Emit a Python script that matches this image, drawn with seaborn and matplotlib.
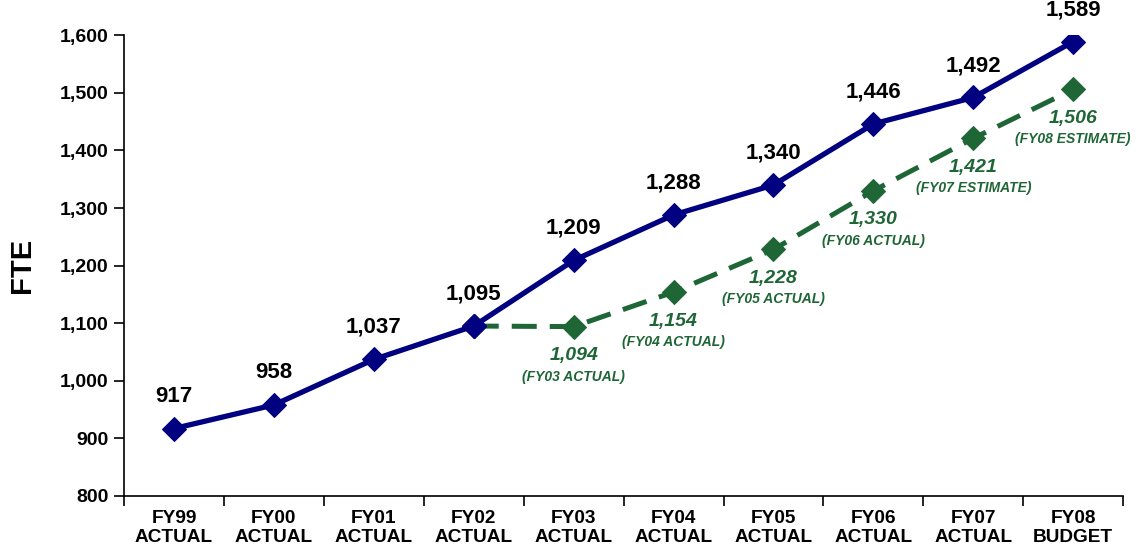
import matplotlib
matplotlib.use("Agg")
import matplotlib.pyplot as plt
import seaborn as sns
import pandas as pd
from matplotlib.ticker import FuncFormatter, FixedLocator

# Fiscal years and staffing levels (FTE)
years = ["FY99", "FY00", "FY01", "FY02", "FY03", "FY04", "FY05", "FY06", "FY07", "FY08"]
year_kinds = ["ACTUAL"] * 9 + ["BUDGET"]
fte_budget = [917, 958, 1037, 1095, 1209, 1288, 1340, 1446, 1492, 1589]

# Actual / estimated FTE, starting from the FY02 level
actual_years = ["FY02", "FY03", "FY04", "FY05", "FY06", "FY07", "FY08"]
fte_actual = [1095, 1094, 1154, 1228, 1330, 1421, 1506]
actual_notes = ["", "(FY03 ACTUAL)", "(FY04 ACTUAL)", "(FY05 ACTUAL)",
                "(FY06 ACTUAL)", "(FY07 ESTIMATE)", "(FY08 ESTIMATE)"]

NAVY = "#000080"
GREEN = "#1f6636"

sns.set_theme(style="white")
plt.rcParams["font.family"] = ["Liberation Sans", "DejaVu Sans"]
plt.rcParams["font.weight"] = "bold"

fig = plt.figure(figsize=(11.41, 5.51), dpi=100)
ax = fig.add_axes([0.1087, 0.100, 0.8757, 0.836])

xpos = {y: i for i, y in enumerate(years)}
df_b = pd.DataFrame({"x": [xpos[y] for y in years], "fte": fte_budget})
df_a = pd.DataFrame({"x": [xpos[y] for y in actual_years], "fte": fte_actual})

sns.lineplot(data=df_a, x="x", y="fte", ax=ax, color=GREEN, lw=3.6,
             marker="D", markersize=12, markeredgecolor=GREEN,
             dashes=False, linestyle=(0, (5, 2.6)), zorder=2)
sns.lineplot(data=df_b, x="x", y="fte", ax=ax, color=NAVY, lw=3.8,
             marker="D", markersize=12, markeredgecolor=NAVY, zorder=3)
# the shared FY02 point stays navy
ax.plot([xpos["FY02"]], [fte_budget[3]], marker="D", ms=12, color=NAVY, zorder=4)

for y, v in zip(years, fte_budget):
    ax.annotate(f"{v:,}", (xpos[y], v), xytext=(0, 23), textcoords="offset points",
                ha="center", va="center", fontsize=16, fontweight="bold", color="black")

for y, v, note in zip(actual_years[1:], fte_actual[1:], actual_notes[1:]):
    ax.annotate(f"{v:,}", (xpos[y], v), xytext=(0, -21), textcoords="offset points",
                ha="center", va="center", fontsize=14, fontweight="bold",
                fontstyle="italic", color=GREEN)
    ax.annotate(note, (xpos[y], v), xytext=(0, -36), textcoords="offset points",
                ha="center", va="center", fontsize=10, fontweight="bold",
                fontstyle="italic", color=GREEN)

ax.set_xlim(-0.5, len(years) - 0.5)
ax.set_ylim(800, 1600)
ax.set_yticks(range(800, 1601, 100))
ax.yaxis.set_major_formatter(FuncFormatter(lambda v, p: f"{int(v):,}"))
ax.set_xticks(range(len(years)))
ax.set_xticklabels([f"{y}\n{k}" for y, k in zip(years, year_kinds)],
                   linespacing=1.15)
ax.xaxis.set_minor_locator(FixedLocator([i - 0.5 for i in range(len(years) + 1)]))
ax.tick_params(axis="x", which="major", length=0, pad=10, labelsize=13.7, labelcolor="black")
ax.tick_params(axis="x", which="minor", length=7, width=1.2, color="black", direction="out", bottom=True)
ax.tick_params(axis="y", which="major", length=7, width=1.2, color="black", direction="out",
               left=True, labelsize=14, labelcolor="black", pad=4)
for lbl in ax.get_xticklabels() + ax.get_yticklabels():
    lbl.set_fontweight("bold")

ax.set_xlabel("")
ax.set_ylabel("FTE", fontsize=21, fontweight="bold", color="black")
ax.yaxis.set_label_coords(-0.088, 0.5)

sns.despine(ax=ax)
for s in ("left", "bottom"):
    ax.spines[s].set_color("black")
    ax.spines[s].set_linewidth(1.2)
ax.grid(False)

fig.savefig("out.png", dpi=100, facecolor="white")
